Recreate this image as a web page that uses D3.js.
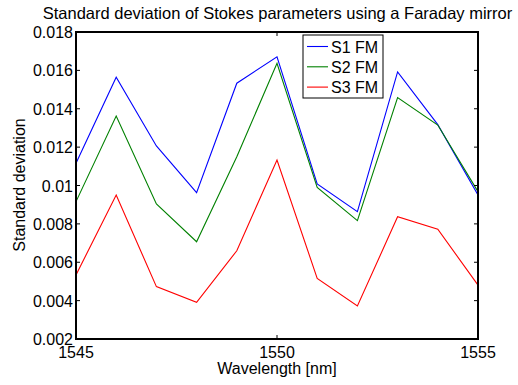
<!DOCTYPE html>
<html>
<head>
<meta charset="utf-8">
<script src="https://cdn.jsdelivr.net/npm/d3@7"></script>
<style>
  html, body { margin: 0; padding: 0; background: #fff; }
  svg { display: block; font-family: "Liberation Sans", Arial, sans-serif; }
</style>
</head>
<body>
<svg id="chart" width="518" height="385"></svg>
<script>
// Wavelengths (nm) and the standard deviation of each Stokes parameter
const wavelengths = [1545, 1546, 1547, 1548, 1549, 1550, 1551, 1552, 1553, 1554, 1555];
const s1 = [0.01116, 0.01564, 0.01206, 0.00963, 0.01533, 0.01671, 0.01008, 0.00864, 0.01592, 0.01317, 0.00950];
const s2 = [0.00916, 0.01362, 0.00904, 0.00707, 0.01150, 0.01637, 0.00990, 0.00817, 0.01458, 0.01315, 0.00968];
const s3 = [0.00534, 0.00950, 0.00473, 0.00391, 0.00660, 0.01133, 0.00516, 0.00372, 0.00837, 0.00772, 0.00481];
const seriesNames = ["S1 FM", "S2 FM", "S3 FM"];
const seriesColors = ["#0000ff", "#008000", "#ff0000"];
const xTicks = [1545, 1550, 1555];
const yTicks = [0.002, 0.004, 0.006, 0.008, 0.01, 0.012, 0.014, 0.016, 0.018];
const yTickLabels = ["0.002", "0.004", "0.006", "0.008", "0.01", "0.012", "0.014", "0.016", "0.018"];

const svg = d3.select("#chart");
const plot = { left: 76, right: 478, top: 32, bottom: 339 };
const fontSize = 16;

const x = d3.scaleLinear().domain([1545, 1555]).range([plot.left, plot.right]);
const y = d3.scaleLinear().domain([0.002, 0.018]).range([plot.bottom, plot.top]);

// Data lines
const line = d3.line().x((d, i) => x(wavelengths[i])).y(d => y(d));
const series = [s1, s2, s3];
const g = svg.append("g");
series.forEach((vals, k) => {
  g.append("path")
    .datum(vals)
    .attr("d", line)
    .attr("fill", "none")
    .attr("stroke", seriesColors[k])
    .attr("stroke-width", 1.1);
});

// Inward ticks on all four sides
const tickLen = 4;
const axisG = svg.append("g").attr("stroke", "#000").attr("stroke-width", 1);
xTicks.forEach(t => {
  axisG.append("line").attr("x1", x(t)).attr("x2", x(t)).attr("y1", plot.bottom).attr("y2", plot.bottom - tickLen);
  axisG.append("line").attr("x1", x(t)).attr("x2", x(t)).attr("y1", plot.top).attr("y2", plot.top + tickLen);
});
yTicks.forEach(t => {
  axisG.append("line").attr("x1", plot.left).attr("x2", plot.left + tickLen).attr("y1", y(t)).attr("y2", y(t));
  axisG.append("line").attr("x1", plot.right).attr("x2", plot.right - tickLen).attr("y1", y(t)).attr("y2", y(t));
});

// Axes box
svg.append("rect")
  .attr("x", plot.left).attr("y", plot.top)
  .attr("width", plot.right - plot.left).attr("height", plot.bottom - plot.top)
  .attr("fill", "none").attr("stroke", "#000").attr("stroke-width", 2);

// Tick labels
svg.append("g").selectAll("text").data(xTicks).join("text")
  .attr("x", d => x(d)).attr("y", 357.5)
  .attr("text-anchor", "middle").attr("font-size", fontSize)
  .text(d => d);
svg.append("g").selectAll("text").data(yTicks).join("text")
  .attr("x", 73).attr("y", d => y(d) + 6)
  .attr("text-anchor", "end").attr("font-size", fontSize)
  .text((d, i) => yTickLabels[i]);

// Axis titles and chart title
svg.append("text").attr("x", 277).attr("y", 374)
  .attr("text-anchor", "middle").attr("font-size", fontSize)
  .text("Wavelength [nm]");
svg.append("text")
  .attr("transform", "translate(25,185) rotate(-90)")
  .attr("text-anchor", "middle").attr("font-size", fontSize)
  .text("Standard deviation");
svg.append("text").attr("x", 277.5).attr("y", 19)
  .attr("text-anchor", "middle").attr("font-size", 16.5)
  .text("Standard deviation of Stokes parameters using a Faraday mirror");

// Legend
const legend = svg.append("g");
legend.append("rect")
  .attr("x", 303).attr("y", 35).attr("width", 80).attr("height", 63)
  .attr("fill", "#fff").attr("stroke", "#000").attr("stroke-width", 1);
seriesNames.forEach((name, k) => {
  const ly = 46.5 + k * 20.3;
  legend.append("line")
    .attr("x1", 307).attr("x2", 328).attr("y1", ly).attr("y2", ly)
    .attr("stroke", seriesColors[k]).attr("stroke-width", 1.1);
  legend.append("text")
    .attr("x", 331).attr("y", ly + 6)
    .attr("font-size", fontSize)
    .text(name);
});
</script>
</body>
</html>
